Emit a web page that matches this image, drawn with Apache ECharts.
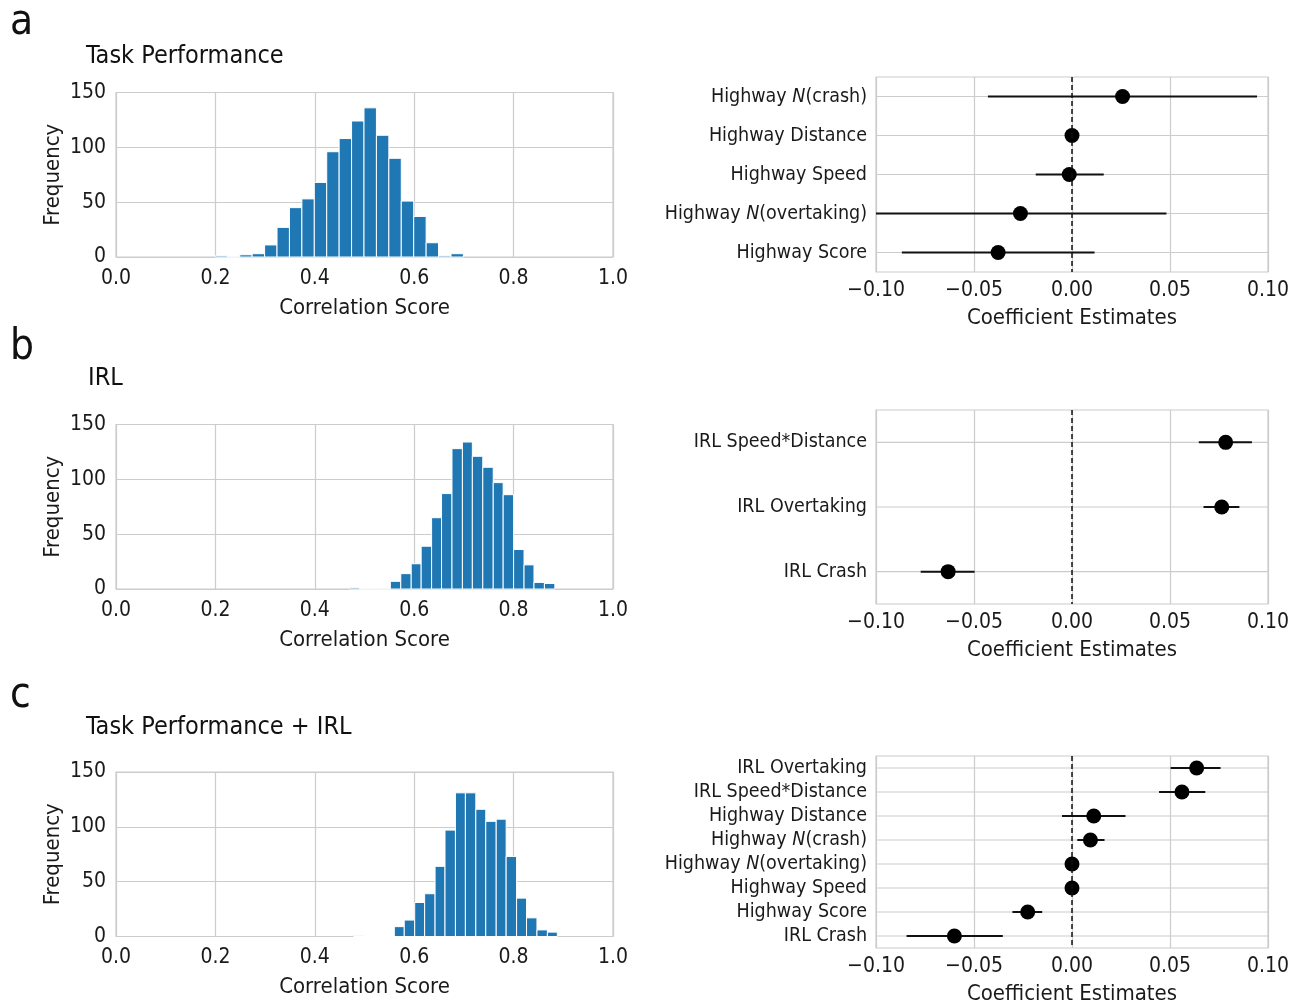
<!DOCTYPE html>
<html><head><meta charset="utf-8">
<script src="https://cdn.jsdelivr.net/npm/echarts@6/dist/echarts.min.js"></script>
<style>html,body{margin:0;padding:0;background:#fff}#c{width:1300px;height:1006px}</style>
</head><body><div id="c"></div>
<script>
// ---------- DATA ----------
const histTicks = [0.0, 0.2, 0.4, 0.6, 0.8, 1.0];
const freqTicks = [0, 50, 100, 150];
const coefTicks = [-0.10, -0.05, 0.00, 0.05, 0.10];

const histEdgesA = [0.199,0.224,0.249,0.274,0.299,0.324,0.349,0.374,0.399,0.424,0.449,0.474,0.499,0.524,0.549,0.574,0.599,0.624,0.649,0.674,0.699];
const histCountsA = [1,0,2,3,11,27,45,53,68,96,108,124,136,111,90,51,37,13,1,3];

const histEdgesB = [0.470,0.490,0.511,0.532,0.552,0.573,0.594,0.614,0.635,0.655,0.676,0.697,0.717,0.738,0.759,0.779,0.800,0.821,0.841,0.862,0.883];
const histCountsB = [1,0,0,0,7,14,23,39,65,87,128,134,121,111,97,86,36,22,6,5];

const histEdgesC = [0.478,0.498,0.519,0.539,0.560,0.580,0.601,0.621,0.642,0.662,0.683,0.703,0.724,0.744,0.765,0.785,0.806,0.826,0.847,0.868,0.888];
const histCountsC = [1,0,0,0,9,15,31,39,64,97,131,131,116,105,107,73,35,17,6,4];

const coefLabelsA = ['Highway N(crash)','Highway Distance','Highway Speed','Highway N(overtaking)','Highway Score'];
const coefEstA = [0.0258, 0.0000, -0.0014, -0.0263, -0.0377];
const coefLoA  = [-0.0429, -0.0010, -0.0185, -0.1000, -0.0868];
const coefHiA  = [0.0944, 0.0010, 0.0162, 0.0482, 0.0115];

const coefLabelsB = ['IRL Speed*Distance','IRL Overtaking','IRL Crash'];
const coefEstB = [0.0784, 0.0764, -0.0632];
const coefLoB  = [0.0647, 0.0671, -0.0772];
const coefHiB  = [0.0918, 0.0854, -0.0497];

const coefLabelsC = ['IRL Overtaking','IRL Speed*Distance','Highway Distance','Highway N(crash)','Highway N(overtaking)','Highway Speed','Highway Score','IRL Crash'];
const coefEstC = [0.0636, 0.0561, 0.0111, 0.0094, 0.0000, 0.0000, -0.0226, -0.0600];
const coefLoC  = [0.0503, 0.0444, -0.0051, 0.0027, -0.0008, -0.0008, -0.0304, -0.0844];
const coefHiC  = [0.0758, 0.0680, 0.0273, 0.0166, 0.0008, 0.0008, -0.0152, -0.0353];

// ---------- STYLE ----------
const FONT = '"DejaVu Sans Condensed","Liberation Sans",sans-serif';
const GRIDC = '#cccccc';
const BAR = '#1f77b4';
const TXT = '#1a1a1a';

const chart = echarts.init(document.getElementById('c'), null, {renderer:'canvas'});

const histGrids = [
  {left:116, width:497, top:92.5, height:164.5},
  {left:116, width:497, top:424.5, height:164.5},
  {left:116, width:497, top:772, height:164.5}
];
const coefGrids = [
  {left:876, width:392, top:77, height:195},
  {left:876, width:392, top:410, height:194},
  {left:876, width:392, top:756, height:195}
];

const grids = [], xAxes = [], yAxes = [], series = [];

function fmtMinus(v){ return (v < -1e-9 ? '\u2212' : '') + Math.abs(v).toFixed(2); }

[[histEdgesA,histCountsA],[histEdgesB,histCountsB],[histEdgesC,histCountsC]].forEach((h,i)=>{
  grids.push(Object.assign({show:true, borderColor:GRIDC, borderWidth:1.2, containLabel:false}, histGrids[i]));
  const gi = grids.length-1;
  xAxes.push({type:'value', gridIndex:gi, min:histTicks[0], max:histTicks[histTicks.length-1], interval:0.2,
    axisLine:{show:false}, axisTick:{show:false},
    splitLine:{show:true, lineStyle:{color:GRIDC, width:1.2}},
    axisLabel:{fontFamily:FONT, fontSize:21, color:TXT, margin:11, formatter:v=>v.toFixed(1)},
    name:'Correlation Score', nameLocation:'middle', nameGap:40,
    nameTextStyle:{fontFamily:FONT, fontSize:22, color:TXT}});
  yAxes.push({type:'value', gridIndex:gi, min:freqTicks[0], max:freqTicks[freqTicks.length-1], interval:50,
    axisLine:{show:false}, axisTick:{show:false},
    splitLine:{show:true, lineStyle:{color:GRIDC, width:1.2}},
    axisLabel:{fontFamily:FONT, fontSize:21, color:TXT, margin:10},
    name:'Frequency', nameLocation:'middle', nameGap:52, nameRotate:90,
    nameTextStyle:{fontFamily:FONT, fontSize:22, color:TXT}});
  const data = h[1].map((c,k)=>[h[0][k], h[0][k+1], c]);
  series.push({type:'custom', xAxisIndex:gi, yAxisIndex:gi, data:data, encode:{x:[0,1], y:2},
    renderItem:(params, api)=>{
      const p0 = api.coord([api.value(0), api.value(2)]);
      const p1 = api.coord([api.value(1), 0]);
      return {type:'rect', shape:{x:p0[0], y:p0[1], width:p1[0]-p0[0], height:p1[1]-p0[1]},
        style:{fill:BAR, stroke:'#ffffff', lineWidth:1}};
    }});
});

const rich = {
  t:{fontFamily:FONT, fontSize:19.5, color:TXT},
  i:{fontFamily:FONT, fontSize:19.5, color:TXT, fontStyle:'italic'}
};
function catFmt(s){
  const m = s.indexOf(' N(');
  if (m >= 0) return '{t|' + s.slice(0,m+1) + '}{i|N}{t|' + s.slice(m+2) + '}';
  return '{t|' + s + '}';
}

[[coefLabelsA,coefEstA,coefLoA,coefHiA],[coefLabelsB,coefEstB,coefLoB,coefHiB],[coefLabelsC,coefEstC,coefLoC,coefHiC]].forEach((c,i)=>{
  grids.push(Object.assign({show:true, borderColor:GRIDC, borderWidth:1.2, containLabel:false}, coefGrids[i]));
  const gi = grids.length-1;
  xAxes.push({type:'value', gridIndex:gi, min:coefTicks[0], max:coefTicks[coefTicks.length-1], interval:0.05,
    axisLine:{show:false}, axisTick:{show:false},
    splitLine:{show:true, lineStyle:{color:GRIDC, width:1.2}},
    axisLabel:{fontFamily:FONT, fontSize:21, color:TXT, margin:8, formatter:fmtMinus},
    name:'Coefficient Estimates', nameLocation:'middle', nameGap:35,
    nameTextStyle:{fontFamily:FONT, fontSize:22, color:TXT}});
  yAxes.push({type:'category', gridIndex:gi, data:c[0], inverse:true, boundaryGap:true,
    axisLine:{show:false}, axisTick:{show:false},
    splitLine:{show:false},
    axisLabel:{margin:9, formatter:catFmt, rich:rich}});
  // horizontal grid lines at category centers
  series.push({type:'custom', xAxisIndex:gi, yAxisIndex:gi, silent:true, z:1,
    data:c[0].map((n,k)=>[coefTicks[0], coefTicks[coefTicks.length-1], k]), encode:{x:[0,1], y:2},
    renderItem:(params, api)=>{
      const a = api.coord([api.value(0), api.value(2)]);
      const b = api.coord([api.value(1), api.value(2)]);
      return {type:'line', shape:{x1:a[0], y1:a[1], x2:b[0], y2:b[1]}, style:{stroke:GRIDC, lineWidth:1.2}};
    }});
  // error bars
  series.push({type:'custom', xAxisIndex:gi, yAxisIndex:gi, z:3,
    data:c[0].map((n,k)=>[c[2][k], c[3][k], k]), encode:{x:[0,1], y:2},
    renderItem:(params, api)=>{
      const a = api.coord([api.value(0), api.value(2)]);
      const b = api.coord([api.value(1), api.value(2)]);
      return {type:'line', shape:{x1:a[0], y1:a[1], x2:b[0], y2:b[1]}, style:{stroke:'#111', lineWidth:2}};
    }});
  // points + dashed zero line
  series.push({type:'scatter', xAxisIndex:gi, yAxisIndex:gi, z:4,
    data:c[0].map((n,k)=>[c[1][k], k]), symbol:'circle', symbolSize:15,
    itemStyle:{color:'#000', opacity:1},
    markLine:{silent:true, symbol:['none','none'], label:{show:false},
      lineStyle:{color:'#111', type:[5,3], width:1.5}, data:[{xAxis:0}]}});
});

const T = (text,left,top,size)=>({text:text, left:left, top:top, padding:0,
  textStyle:{fontFamily:FONT, fontSize:size, fontWeight:'normal', color:'#111'}});
const titles = [
  T('a', 10, 2, 42),
  T('Task Performance', 86, 44, 25),
  T('b', 10, 327, 42),
  T('IRL', 88, 366, 25),
  T('c', 10, 675, 42),
  T('Task Performance + IRL', 86, 715, 25)
];

chart.setOption({
  animation:false,
  backgroundColor:'#ffffff',
  title:titles,
  grid:grids, xAxis:xAxes, yAxis:yAxes, series:series
});
</script></body></html>
